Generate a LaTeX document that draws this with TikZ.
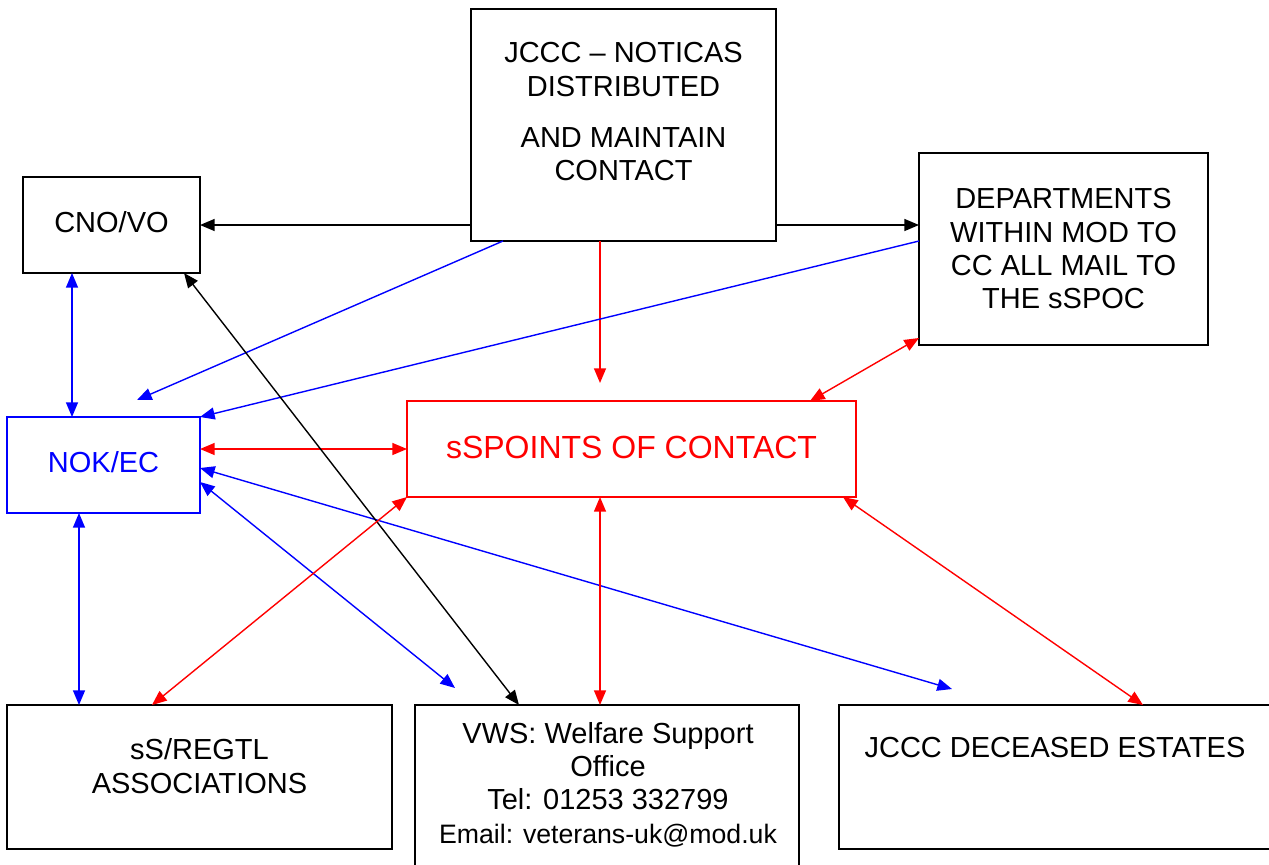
\documentclass[tikz,border=0pt]{standalone}
\usepackage{fontspec}
\setmainfont{Liberation Sans}
\usetikzlibrary{
    arrows.meta,
    calc
}

\begin{document}
\begin{tikzpicture}[
    x=0.75pt, y=-0.75pt,
    every node/.style={font=\fontsize{21.75}{25}\selectfont, align=center},
    box/.style={draw=black, line width=1.2pt, inner sep=0pt, outer sep=0pt},
    >={Triangle[length=11pt,width=9pt]},
    arrow/.style={->, line width=1.05pt},
    dbl/.style={<->, line width=1.05pt}
]
    \useasboundingbox (0,0) rectangle (1269,864);

    % Boxes
    \node (jccc) [box, minimum width=228.75pt, minimum height=174pt] at (623.5,125) {};
    \node (jcccText) at (623.5,112) {JCCC \textendash{} NOTICAS\\DISTRIBUTED\\[13.5pt]AND MAINTAIN\\CONTACT};
    \node (cno) [box, text depth=4.5pt, minimum width=132.75pt, minimum height=72pt] at (111.5,225) {CNO/VO};
    \node (dept) [box, minimum width=216.75pt, minimum height=144pt] at (1063.5,249) {DEPARTMENTS\\WITHIN MOD TO\\CC ALL MAIL TO\\THE sSPOC};
    \node (nok) [box, draw=blue, text=blue, text depth=4.5pt, minimum width=144.75pt, minimum height=72pt] at (103.5,465) {NOK/EC};
    \node (sspoc) [box, draw=red, text=red, line width=1.6pt, text depth=3pt, minimum width=336.75pt, minimum height=72pt, font=\fontsize{24}{28}\selectfont] at (631.5,449) {sSPOINTS OF CONTACT};
    \node (assoc) [box, minimum width=288.75pt, minimum height=108pt] at (199.5,777) {};
    \node (assocText) at (199.5,766) {sS/REGTL\\ASSOCIATIONS};
    \node (vws) [box, minimum width=288pt, minimum height=131.25pt] at (607,792.5) {};
    \node (vwsText) at (608,784.5) {VWS: Welfare Support\\Office\\Tel: 01253 332799\\{\fontsize{20}{22}\selectfont Email: veterans-uk@mod.uk}};
    \node (est) [box, minimum width=330.75pt, minimum height=108pt] at (1059.5,777) {};
    \node (estText) at (1055,748) {JCCC DECEASED ESTATES};

    % Free ends
    \coordinate (sspocIn) at (600,383);
    \coordinate (nokIn) at (137,400);
    \coordinate (vwsIn) at (455,688);
    \coordinate (estIn) at (952,689);

    % From JCCC
    \draw [arrow] (jccc.west |- cno) -- (cno.east);
    \draw [arrow] (jccc.east |- cno) -- (dept.west |- cno);
    \draw [arrow, red] ($(jccc.south)+(-23.5,0)$) -- (sspocIn);
    \draw [arrow, blue] ($(jccc.south west)+(32,0)$) -- (nokIn);

    % From departments
    \draw [arrow, blue] ($(dept.west)+(0,-8)$) -- (nok.north east);
    \draw [dbl, red] ($(dept.south west)+(0,-7)$) -- ($(sspoc.north east)+(-46,0)$);

    % Around NOK/EC
    \draw [dbl, blue] ($(cno.south west)+(49,0)$) -- ($(nok.north west)+(65,0)$);
    \draw [dbl, red] (nok.east |- sspoc) -- (sspoc.west);
    \draw [dbl, blue] ($(nok.east)+(0,17)$) -- (vwsIn);
    \draw [dbl, blue] ($(nok.east)+(0,3)$) -- (estIn);
    \draw [dbl, blue] ($(nok.south west)+(72,0)$) -- ($(assoc.north west)+(72,0)$);
    \draw [dbl] ($(cno.south east)+(-16,0)$) -- ($(vws.north west)+(104,0)$);

    % From points of contact
    \draw [dbl, red] (sspoc.south west) -- ($(assoc.north west)+(145,0)$);
    \draw [dbl, red] ($(sspoc.south)+(-31.5,0)$) -- ($(vws.north)+(-7,0)$);
    \draw [dbl, red] ($(sspoc.south east)+(-13,0)$) -- ($(est.north west)+(304,0)$);

\end{tikzpicture}
\end{document}
